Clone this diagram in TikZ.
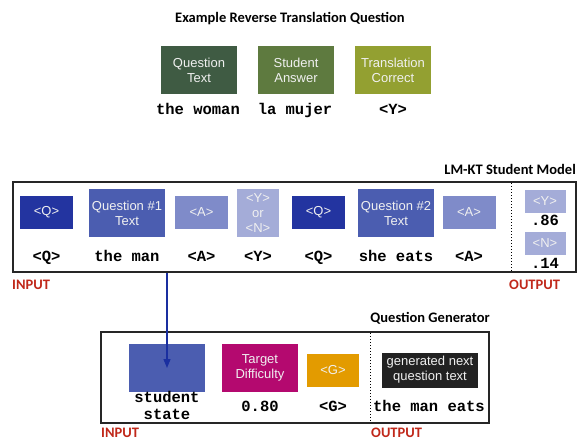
\documentclass[tikz,border=0pt]{standalone}
\usepackage{fontspec}
\usetikzlibrary{arrows.meta}
\newfontfamily\helv{Liberation Sans}
\newfontfamily\cour{Liberation Mono}
\newfontfamily\calib{Carlito}
\definecolor{qgreen}{HTML}{3F5B43}
\definecolor{agreen}{HTML}{5E7A3F}
\definecolor{cgreen}{HTML}{93A031}
\definecolor{dblue}{HTML}{2334A0}
\definecolor{mblue}{HTML}{4B5DB0}
\definecolor{lblue}{HTML}{7F8BC9}
\definecolor{pblue}{HTML}{A4ACD8}
\definecolor{magen}{HTML}{B4096F}
\definecolor{orng}{HTML}{E39B00}
\definecolor{dark}{HTML}{222222}
\definecolor{lblred}{HTML}{C0281A}
\definecolor{arrblue}{HTML}{1A2FA0}
\tikzset{
	tok/.style={inner sep=0pt, text=white!94!black, align=center, font=\helv\fontsize{13}{15}\selectfont},
	small/.style={tok, minimum width=53pt, minimum height=33pt},
	big/.style={tok, minimum width=76pt, minimum height=48pt},
	word/.style={inner sep=0pt, anchor=base, align=center, font=\cour\bfseries\fontsize{15.5}{16.7}\selectfont},
	head/.style={inner sep=0pt, font=\calib\bfseries\fontsize{14.5}{16}\selectfont},
	io/.style={head, text=lblred, anchor=base west},
	frame/.style={draw=black!85, line width=1.5pt, inner sep=0pt},
	sep/.style={black, line width=1pt, dotted}
}
\begin{document}
\begin{tikzpicture}[x=1pt,y=-1pt]
				\useasboundingbox (0,0) rectangle (578,441);
				
				\node[head, anchor=base] (extitle) at (290,22.7) {Example Reverse Translation Question};
				\node[big, fill=qgreen] (qtext) at (199,70) {Question\\Text};
				\node[big, fill=agreen] (answer) at (296,70) {Student\\Answer};
				\node[big, fill=cgreen] (correct) at (393,70) {Translation\\Correct};
				\node[word] (wqtext) at (198,114) {the woman};
				\node[word] (wanswer) at (295,114) {la mujer};
				\node[word] (wcorrect) at (393,114) {<Y>};
				
				\node[frame, minimum width=563pt, minimum height=90pt] (lmkt) at (294.5,227) {};
				\node[head, anchor=base east] (lmkttitle) at (576,175) {LM-KT Student Model};
				\node[small, fill=dblue] (q1) at (46.5,212.5) {<Q>};
				\node[big, fill=mblue] (qt1) at (127,213) {Question \#1\\Text};
				\node[small, fill=lblue] (a1) at (201.5,212.5) {<A>};
				\node[tok, fill=pblue, minimum width=42pt, minimum height=48pt] (yn) at (258,213) {<Y>\\or\\<N>};
				\node[small, fill=dblue] (q2) at (318.5,212.5) {<Q>};
				\node[big, fill=mblue] (qt2) at (396,213) {Question \#2\\Text};
				\node[small, fill=lblue] (a2) at (469,212.5) {<A>};
				\node[word] (wq1) at (46.5,261) {<Q>};
				\node[word] (wqt1) at (127,261) {the man};
				\node[word] (wa1) at (201.5,261) {<A>};
				\node[word] (wyn) at (258,261) {<Y>};
				\node[word] (wq2) at (318.5,261) {<Q>};
				\node[word] (wqt2) at (396,261) {she eats};
				\node[word] (wa2) at (469,261) {<A>};
				\draw[sep] (511,183) -- (511,271);
				\node[tok, fill=pblue, minimum width=41pt, minimum height=23pt] (outy) at (545,201) {<Y>};
				\node[word] (py) at (545,225) {.86};
				\node[tok, fill=pblue, minimum width=41pt, minimum height=23pt] (outn) at (545,243) {<N>};
				\node[word] (pn) at (545,268) {.14};
				\node[io] (lmktin) at (12,289) {INPUT};
				\node[io] (lmktout) at (509,289) {OUTPUT};
				
				\node[frame, minimum width=388pt, minimum height=91pt] (qgen) at (295,377.5) {};
				\node[head, anchor=base east] (qgentitle) at (490,322.7) {Question Generator};
				\node[big, fill=mblue] (state) at (167,368) {};
				\node[big, fill=magen] (diff) at (260,368) {Target\\Difficulty};
				\node[small, fill=orng, minimum width=52pt] (gtok) at (333,370.5) {<G>};
				\draw[sep] (370,333) -- (370,422);
				\node[tok, fill=dark, minimum width=96pt, minimum height=35pt] (gen) at (430,370) {generated next\\question text};
				\node[word] (wstate1) at (167,402.7) {student};
				\node[word] (wstate2) at (167,419.3) {state};
				\node[word] (wdiff) at (260,411) {0.80};
				\node[word] (wgtok) at (333,411) {<G>};
				\node[word] (wgen) at (429,411.5) {the man eats};
				\node[io] (qgenin) at (101,437.8) {INPUT};
				\node[io] (qgenout) at (371,437.8) {OUTPUT};
				
				\draw[arrblue, line width=1.3pt, -{Triangle[length=9pt,width=7pt]}] (lmkt.south -| state.center) -- (state.center);
			\end{tikzpicture}
\end{document}
